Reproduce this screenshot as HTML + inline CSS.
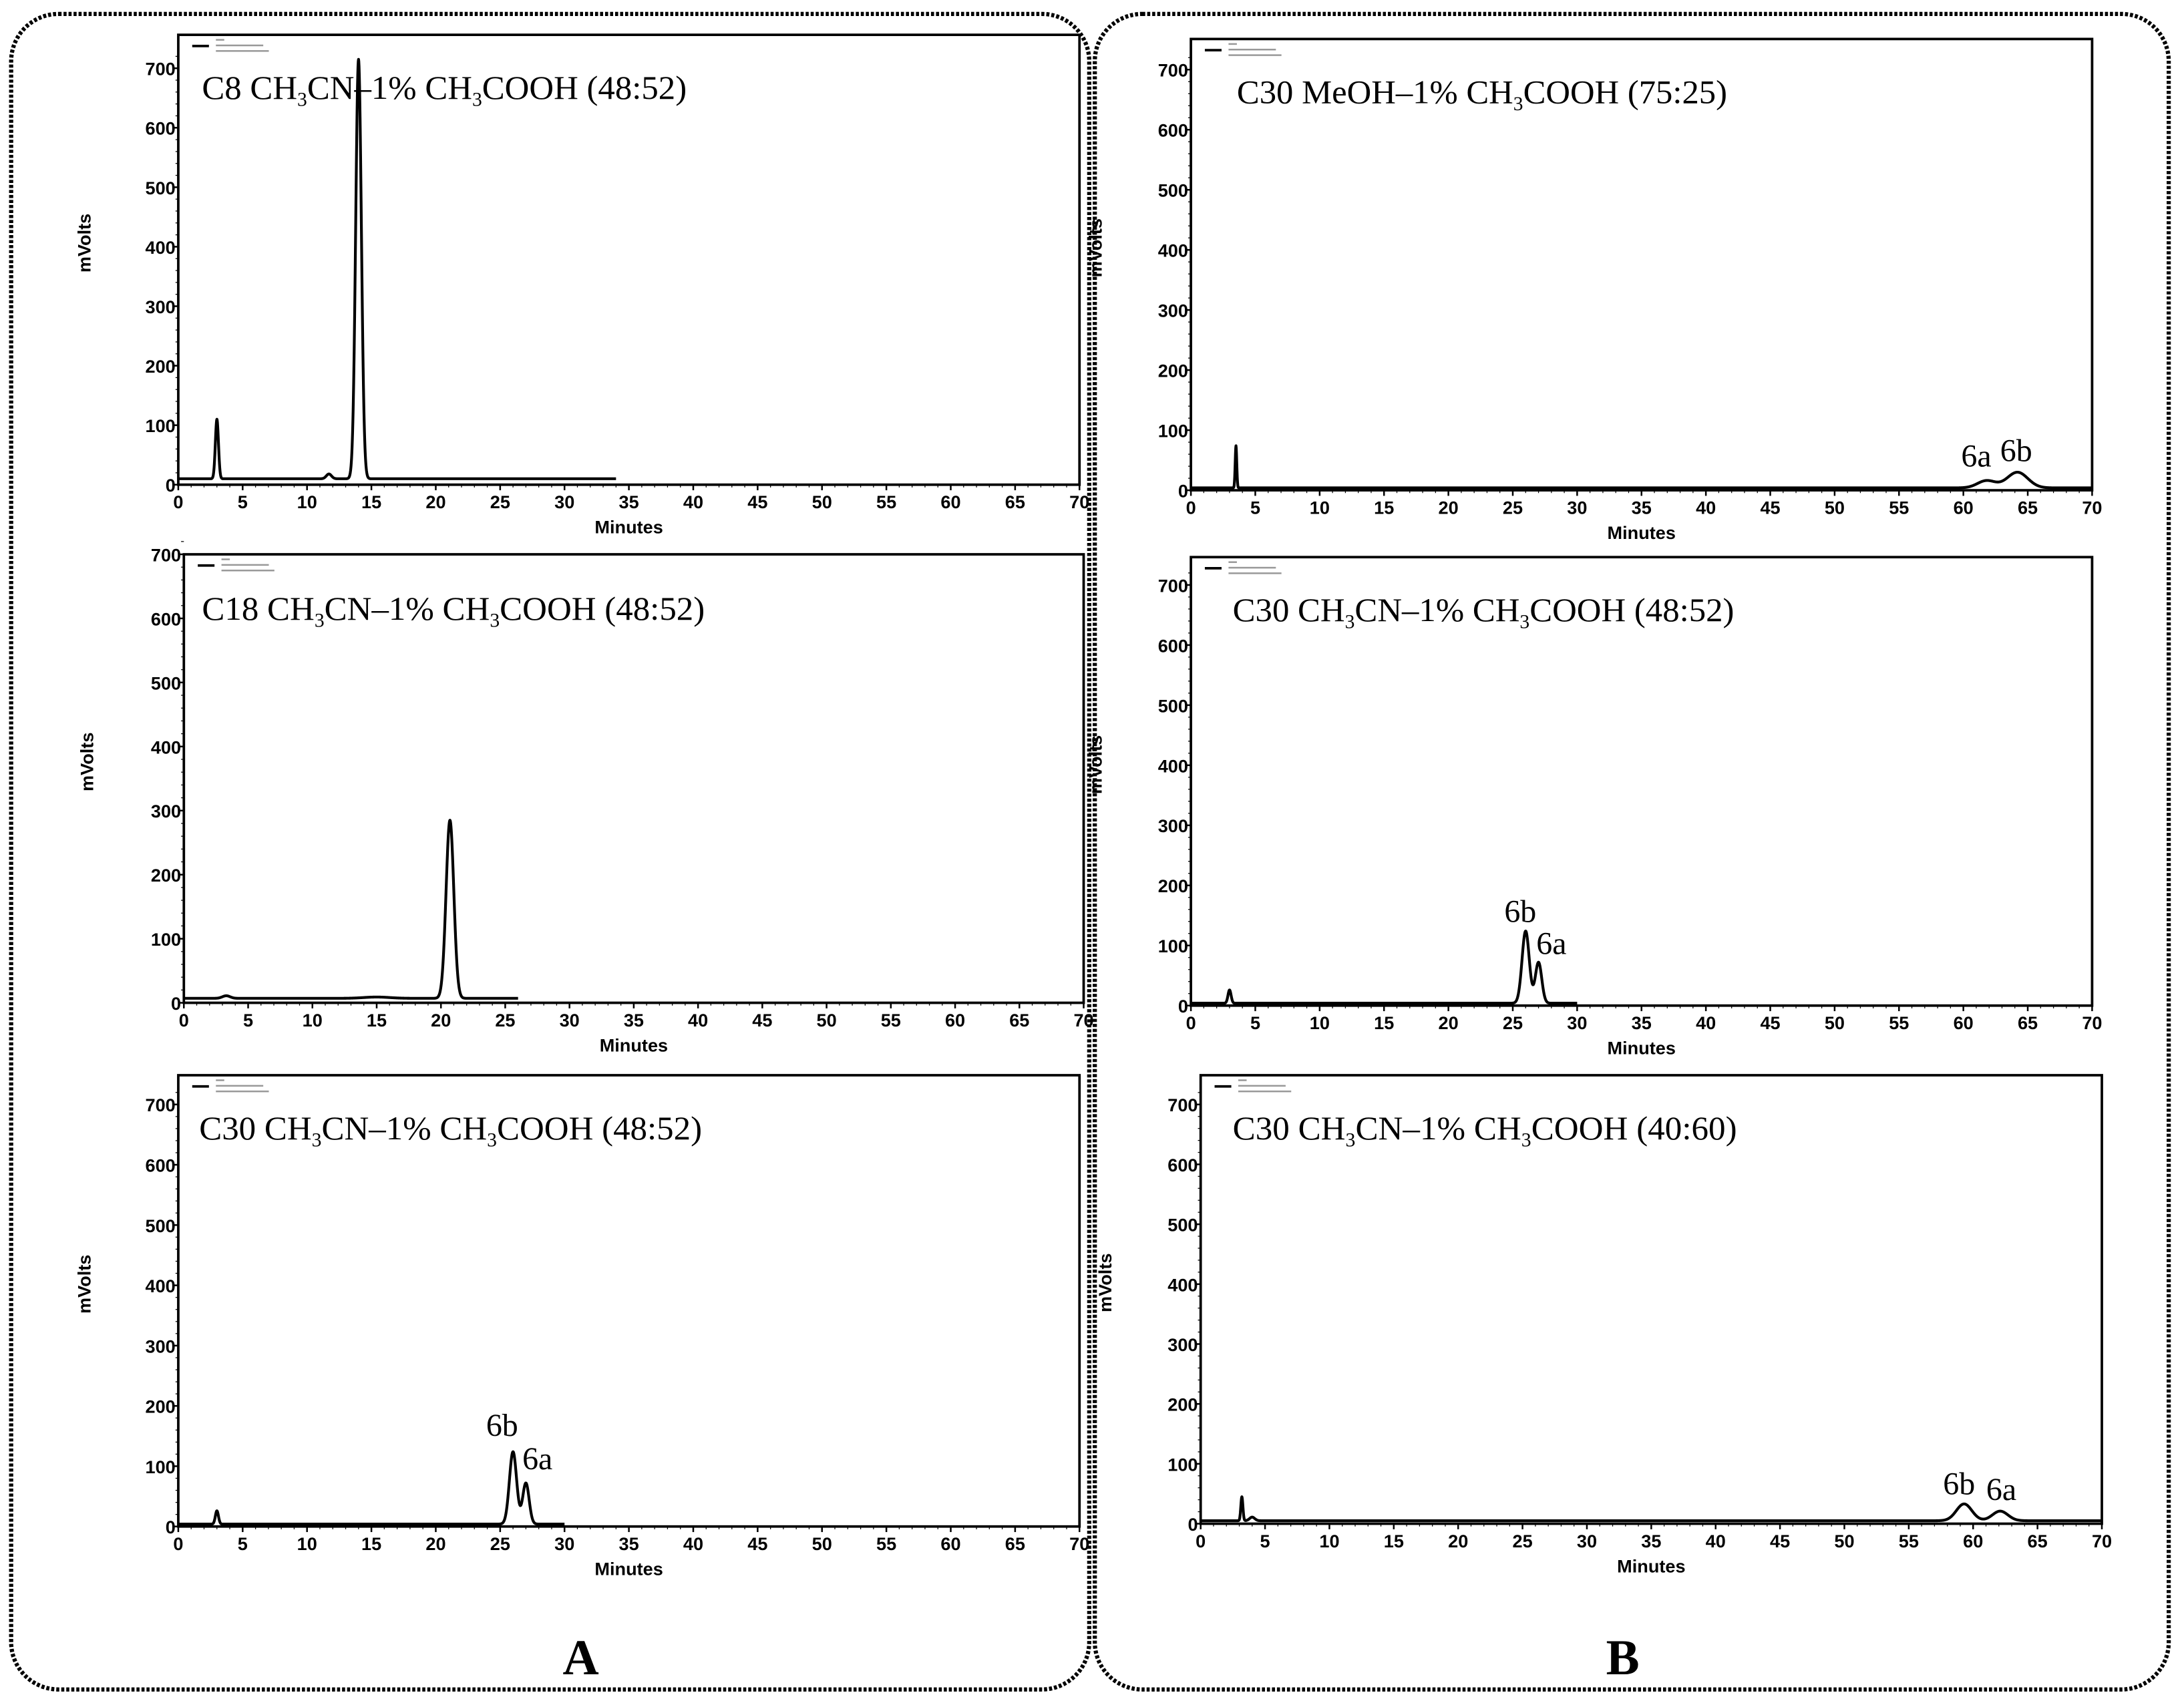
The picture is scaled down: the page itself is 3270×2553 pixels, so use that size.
<!DOCTYPE html>
<html><head><meta charset="utf-8"><style>
html,body{margin:0;padding:0;background:#fff;}
svg{display:block;}
.tk{font-family:"Liberation Sans",sans-serif;font-weight:bold;font-size:13px;fill:#000;}
.ttl{font-family:"Liberation Serif",serif;font-size:24px;fill:#000;}
.lab{font-family:"Liberation Serif",serif;font-size:23px;fill:#000;}
.big{font-family:"Liberation Serif",serif;font-weight:bold;font-size:36px;fill:#000;}
</style></head><body>
<svg id="fig" width="3270" height="2553" viewBox="0 0 3270 2553">
<g id="root" transform="scale(2.0855)">
<rect x="8" y="10" width="774" height="1203" rx="34" fill="none" stroke="#000" stroke-width="3" stroke-dasharray="2.2 1.4"/>
<rect x="786" y="10" width="771" height="1203" rx="34" fill="none" stroke="#000" stroke-width="3" stroke-dasharray="2.2 1.4"/>
<text class="big" x="417" y="1202" text-anchor="middle">A</text>
<text class="big" x="1165" y="1202" text-anchor="middle">B</text>
</g>
</svg>
<script>
// ---- data (retention time in minutes, peak height in mV, peak width in minutes) ----
const xTicks = [0,5,10,15,20,25,30,35,40,45,50,55,60,65,70];
const yTicks = [0,100,200,300,400,500,600,700];
const a1PeakTimes = [3.0, 11.7, 14.0];
const a1PeakHeights = [100, 8, 705];
const a1PeakWidths = [0.12, 0.2, 0.22];
const a1Baseline = 10, a1RunEnd = 34;
const a2PeakTimes = [3.3, 15.0, 20.7];
const a2PeakHeights = [4, 2, 278];
const a2PeakWidths = [0.3, 1.0, 0.3];
const a2Baseline = 7, a2RunEnd = 26;
const a3PeakTimes = [3.0, 26.0, 27.0];
const a3PeakHeights = [22, 120, 68];
const a3PeakWidths = [0.12, 0.28, 0.25];
const a3Baseline = 4, a3RunEnd = 30;
const b1PeakTimes = [3.5, 61.8, 64.2];
const b1PeakHeights = [70, 12, 26];
const b1PeakWidths = [0.06, 0.7, 0.8];
const b1Baseline = 4, b1RunEnd = 70;
const b2PeakTimes = [3.0, 26.0, 27.0];
const b2PeakHeights = [22, 120, 68];
const b2PeakWidths = [0.12, 0.28, 0.25];
const b2Baseline = 4, b2RunEnd = 30;
const b3PeakTimes = [3.2, 4.0, 59.3, 62.1];
const b3PeakHeights = [40, 6, 28, 16];
const b3PeakWidths = [0.08, 0.2, 0.6, 0.6];
const b3Baseline = 5, b3RunEnd = 70;

// ---- layout ----
const NS = "http://www.w3.org/2000/svg";
const root = document.getElementById('root');
function el(tag, attrs, parent){const e=document.createElementNS(NS,tag);for(const k in attrs)e.setAttribute(k,attrs[k]);(parent||root).appendChild(e);return e;}

const panels = [
 {id:'a1',L:128,R:775,T:25,Y0:348,Y700:49,title:['C8 CH','3','CN–1% CH','3','COOH (48:52)'],tx:145,ty:71,tw:348,mvx:65,
  times:a1PeakTimes,heights:a1PeakHeights,widths:a1PeakWidths,base:a1Baseline,end:a1RunEnd,labels:[]},
 {id:'a2',L:132,R:778,T:398,Y0:720,Y700:398,title:['C18 CH','3','CN–1% CH','3','COOH (48:52)'],tx:145,ty:445,tw:361,mvx:67,
  times:a2PeakTimes,heights:a2PeakHeights,widths:a2PeakWidths,base:a2Baseline,end:a2RunEnd,labels:[]},
 {id:'a3',L:128,R:775,T:772,Y0:1096,Y700:793,title:['C30 CH','3','CN–1% CH','3','COOH (48:52)'],tx:143,ty:818,tw:361,mvx:65,
  times:a3PeakTimes,heights:a3PeakHeights,widths:a3PeakWidths,base:a3Baseline,end:a3RunEnd,labels:[['6b',349,1031],['6a',375,1055]]},
 {id:'b1',L:855,R:1502,T:28,Y0:352,Y700:50,title:['C30 MeOH–1% CH','3','COOH (75:25)'],tx:888,ty:74,tw:352,mvx:791,
  times:b1PeakTimes,heights:b1PeakHeights,widths:b1PeakWidths,base:b1Baseline,end:b1RunEnd,labels:[['6a',1408,335],['6b',1436,331]]},
 {id:'b2',L:855,R:1502,T:400,Y0:722,Y700:420,title:['C30 CH','3','CN–1% CH','3','COOH (48:52)'],tx:885,ty:446,tw:360,mvx:791,
  times:b2PeakTimes,heights:b2PeakHeights,widths:b2PeakWidths,base:b2Baseline,end:b2RunEnd,labels:[['6b',1080,662],['6a',1103,685]]},
 {id:'b3',L:862,R:1509,T:772,Y0:1094,Y700:793,title:['C30 CH','3','CN–1% CH','3','COOH (40:60)'],tx:885,ty:818,tw:362,mvx:798,
  times:b3PeakTimes,heights:b3PeakHeights,widths:b3PeakWidths,base:b3Baseline,end:b3RunEnd,labels:[['6b',1395,1073],['6a',1426,1077]]}
];

panels.forEach(p=>{
  const g = el('g',{});
  
  
  const xs = t => p.L + (p.R-p.L)*t/70;
  const ys = v => p.Y0 - (p.Y0-p.Y700)*v/700;
  const frame = el('rect',{x:p.L,y:p.T,width:p.R-p.L,height:p.Y0-p.T,fill:'none',stroke:'#000','stroke-width':1.8},g);
  
  
  const lg = el('g',{},g);
  
  
  el('line',{x1:p.L+10,x2:p.L+22,y1:p.T+8,y2:p.T+8,stroke:'#000','stroke-width':1.8},lg);
  el('rect',{x:p.L+27,y:p.T+3,width:6,height:1.2,fill:'#999'},lg);
  el('rect',{x:p.L+27,y:p.T+7,width:34,height:1.2,fill:'#999'},lg);
  el('rect',{x:p.L+27,y:p.T+11,width:38,height:1.2,fill:'#999'},lg);
  xTicks.forEach(t=>{
    el('line',{x1:xs(t),x2:xs(t),y1:p.Y0,y2:p.Y0+4,stroke:'#000','stroke-width':1.2},g);
    const tx = el('text',{x:xs(t),y:p.Y0+17,'text-anchor':'middle',class:'tk'},g);
    tx.textContent = t;
    
    
  });
  for(let t=1;t<70;t++){ if(t%5) el('line',{x1:xs(t),x2:xs(t),y1:p.Y0,y2:p.Y0+2,stroke:'#000','stroke-width':0.6},g); }
  yTicks.forEach(v=>{
    el('line',{x1:p.L-4,x2:p.L,y1:ys(v),y2:ys(v),stroke:'#000','stroke-width':1.2},g);
    const ty = el('text',{x:p.L-2,y:ys(v)+5,'text-anchor':'end',class:'tk'},g);
    ty.textContent = v;
    
    
  });
  for(let v=20;v<=720;v+=20){ if(v%100) el('line',{x1:p.L-2,x2:p.L,y1:ys(v),y2:ys(v),stroke:'#000','stroke-width':0.6},g); }
  const xt = el('text',{x:(p.L+p.R)/2,y:p.Y0+35,'text-anchor':'middle',class:'tk'},g);
  xt.textContent='Minutes';
  
  
  const ym = (p.T+p.Y0)/2 - 12;
  const yt = el('text',{x:p.mvx,y:ym,'text-anchor':'middle',class:'tk',transform:`rotate(-90 ${p.mvx} ${ym})`},g);
  yt.textContent='mVolts';
  
  
  const tt = el('text',{x:p.tx,y:p.ty,class:'ttl',textLength:p.tw,lengthAdjust:'spacingAndGlyphs'},g);
  
  
  p.title.forEach((s,i)=>{
    const sp = el('tspan',{},tt);
    if(i%2===1){ sp.setAttribute('font-size','14'); sp.setAttribute('dy','5'); }
    else if(i>0){ sp.setAttribute('dy','-5'); }
    sp.textContent = s;
  });
  let d='';
  const step=0.02;
  for(let t=0;t<=p.end+1e-9;t+=step){
    let v=p.base;
    for(let k=0;k<p.times.length;k++){
      const z=(t-p.times[k])/p.widths[k];
      v += p.heights[k]*Math.exp(-0.5*z*z);
    }
    d += (t===0?'M':'L')+xs(t).toFixed(2)+' '+ys(v).toFixed(2);
  }
  const tr = el('path',{d:d,fill:'none',stroke:'#000','stroke-width':2,'stroke-linejoin':'round'},g);
  
  
  p.labels.forEach(l=>{
    const lt = el('text',{x:l[1],y:l[2],class:'lab'},g);
    lt.textContent=l[0];
    
    
  });
});
</script>
</body></html>
